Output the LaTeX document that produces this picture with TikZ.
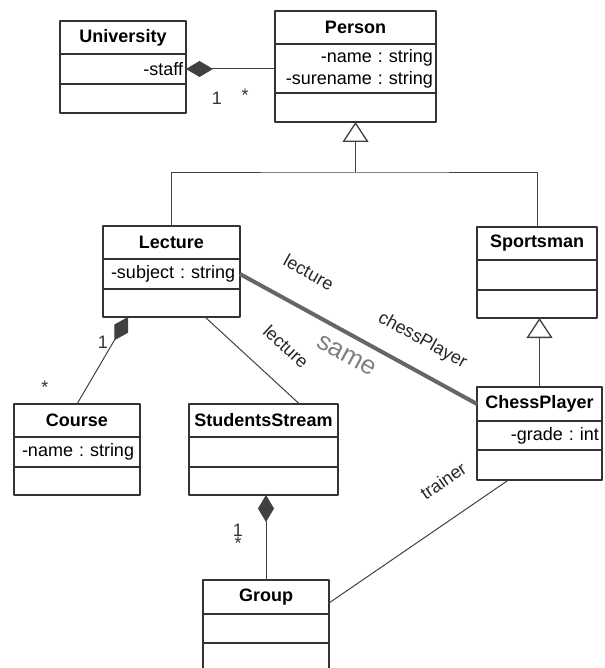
\documentclass[tikz,border=0pt]{standalone}
\usepackage{fontspec}
\setmainfont{Liberation Sans}
\usetikzlibrary{positioning,arrows.meta}
\frenchspacing
\begin{document}
\begin{tikzpicture}[x=1pt,y=-1pt,line join=round,
	every node/.style={font=\fontsize{18}{22}\selectfont},
	classhead/.style={draw=black!80,line width=1.3pt,outer sep=0pt,inner sep=3pt,anchor=north west,text width=#1,align=center,minimum height=33pt,font=\fontsize{18}{22}\selectfont\bfseries},
	classpart/.style={draw=black!80,line width=1.3pt,outer sep=0pt,inner sep=3pt,text width=#1,minimum height=30pt},
	link/.style={draw=black!75,line width=1pt},
	gen/.style={link,-{Triangle[open,length=20pt,width=26pt,line width=1.3pt]}},
	comp/.style={link,{Diamond[length=27pt,width=16pt]}-},
	mult/.style={inner sep=0pt,text=black!80},
	role/.style={inner sep=1pt,sloped,text=black!85}]
	\useasboundingbox (0,0) rectangle (604,668);
	\clip (0,0) rectangle (604,668);
	% classes
	\node[classhead=120pt] (univ) at (60,21) {University};
	\node[classpart=120pt,align=right,below=0pt of univ] (univ-a) {-staff};
	\node[classpart=120pt,minimum height=29pt,below=0pt of univ-a] (univ-o) {};
	\node[classhead=155pt] (person) at (275,11) {Person};
	\node[classpart=155pt,align=right,minimum height=49pt,below=0pt of person] (person-a) {-name : string\\-surename : string};
	\node[classpart=155pt,minimum height=29pt,below=0pt of person-a] (person-o) {};
	\node[classhead=131pt] (lecture) at (103,226) {Lecture};
	\node[classpart=131pt,align=left,below=0pt of lecture] (lecture-a) {\hspace*{5pt}\mbox{-subject : string}};
	\node[classpart=131pt,minimum height=28pt,below=0pt of lecture-a] (lecture-o) {};
	\node[classhead=114pt] (sport) at (477,227) {Sportsman};
	\node[classpart=114pt,below=0pt of sport] (sport-a) {};
	\node[classpart=114pt,minimum height=28pt,below=0pt of sport-a] (sport-o) {};
	\node[classhead=119pt,minimum height=34pt] (chess) at (477,387) {ChessPlayer};
	\node[classpart=119pt,align=right,minimum height=29pt,below=0pt of chess] (chess-a) {-grade : int};
	\node[classpart=119pt,below=0pt of chess-a] (chess-o) {};
	\node[classhead=120pt] (course) at (14,404) {Course};
	\node[classpart=120pt,align=left,below=0pt of course] (course-a) {\hspace*{5pt}\mbox{-name : string}};
	\node[classpart=120pt,minimum height=28pt,below=0pt of course-a] (course-o) {};
	\node[classhead=143pt] (stream) at (189,404) {StudentsStream};
	\node[classpart=143pt,below=0pt of stream] (stream-a) {};
	\node[classpart=143pt,minimum height=28pt,below=0pt of stream-a] (stream-o) {};
	\node[classhead=120pt,minimum height=34pt] (group) at (203,580) {Group};
	\node[classpart=120pt,minimum height=29pt,below=0pt of group] (group-a) {};
	\node[classpart=120pt,below=0pt of group-a] (group-o) {};
	% connectors
	\draw[comp] (univ-a.east) -- (univ-a.east -| person-a.west);
	\path (person-o.south) ++(0,51) coordinate (fork);
	\draw[gen] (fork) -- (person-o.south);
	\draw[link] (lecture.north) |- (fork) -| (sport.north);
	\draw[gen] (chess.north) -- (chess.north |- sport-o.south);
	\draw[comp] ([xshift=25pt]lecture-o.south west) -- (course.north);
	\draw[link] ([xshift=-35pt]lecture-o.south east) -- node[role,above=25pt,pos=0.62] (r-lect2) {lecture} ([xshift=36pt]stream.north);
	\draw[draw=black!60,line width=4pt] (lecture-a.east) -- node[role,above=25pt,pos=0.22] (r-lect1) {lecture}
		node[pos=0.49,sloped,below=10pt,inner sep=1pt,text=black!50,font=\fontsize{26}{30}\selectfont] (r-same) {same}
		node[role,above=18pt,pos=0.71] (r-chess) {chessPlayer} (chess.west);
	\draw[comp] (group.north |- stream-o.south) -- (group.north);
	\draw[link] ([yshift=-6pt]group.east) -- node[role,above=28pt,pos=0.75] (r-trainer) {trainer} ([xshift=-31pt]chess-o.south);
	% multiplicities
	\node[mult] (m1) at (217,98) {1};
	\node[mult] (m2) at (245,95) {*};
	\node[mult] (m3) at (103,342) {1};
	\node[mult] (m4) at (45,387) {*};
	\node[mult] (m5) at (238,530) {1};
	\node[mult] (m6) at (238,543) {*};
\end{tikzpicture}
\end{document}
